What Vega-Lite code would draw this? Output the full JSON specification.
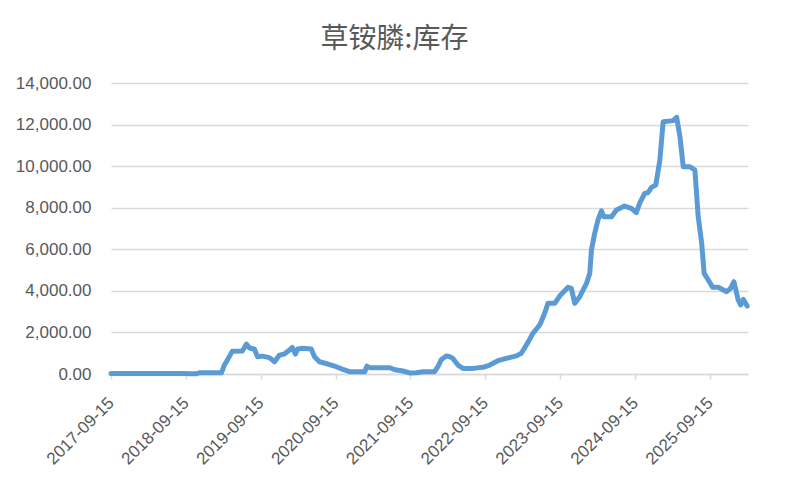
{
  "$schema": "https://vega.github.io/schema/vega-lite/v6.json",
  "autosize": "none",
  "width": 637,
  "height": 291,
  "padding": {"left": 111, "top": 83, "right": 40, "bottom": 105},
  "background": "white",
  "title": {
    "text": "草铵膦:库存",
    "font": "Noto Sans CJK SC",
    "fontSize": 28,
    "fontWeight": "normal",
    "color": "#595959",
    "anchor": "middle",
    "dx": -35,
    "offset": 20
  },
  "config": {
    "view": {"stroke": null},
    "axis": {
      "labelFont": "Liberation Sans",
      "labelFontSize": 17,
      "labelColor": "#595959",
      "titleColor": "#595959"
    }
  },
  "data": {
    "values": [
      {"date": "2017-09-15", "value": 30},
      {"date": "2018-08-29", "value": 30},
      {"date": "2018-10-03", "value": 10},
      {"date": "2018-11-06", "value": 10},
      {"date": "2018-11-20", "value": 60},
      {"date": "2019-03-08", "value": 60},
      {"date": "2019-03-22", "value": 430},
      {"date": "2019-04-01", "value": 590},
      {"date": "2019-04-30", "value": 1100},
      {"date": "2019-06-18", "value": 1110},
      {"date": "2019-07-08", "value": 1440},
      {"date": "2019-07-23", "value": 1250},
      {"date": "2019-08-16", "value": 1190},
      {"date": "2019-08-31", "value": 830},
      {"date": "2019-09-24", "value": 860},
      {"date": "2019-10-28", "value": 790},
      {"date": "2019-11-22", "value": 590},
      {"date": "2019-12-16", "value": 910},
      {"date": "2020-01-09", "value": 960},
      {"date": "2020-02-03", "value": 1150},
      {"date": "2020-02-16", "value": 1280},
      {"date": "2020-03-03", "value": 960},
      {"date": "2020-03-14", "value": 1200},
      {"date": "2020-04-08", "value": 1235},
      {"date": "2020-05-19", "value": 1200},
      {"date": "2020-06-04", "value": 830},
      {"date": "2020-06-28", "value": 590},
      {"date": "2020-08-08", "value": 480},
      {"date": "2020-09-18", "value": 350},
      {"date": "2020-10-20", "value": 225},
      {"date": "2020-11-22", "value": 110},
      {"date": "2021-02-04", "value": 110},
      {"date": "2021-02-15", "value": 385},
      {"date": "2021-02-28", "value": 300},
      {"date": "2021-06-06", "value": 300},
      {"date": "2021-07-08", "value": 190},
      {"date": "2021-08-10", "value": 145},
      {"date": "2021-09-11", "value": 50},
      {"date": "2021-10-14", "value": 60},
      {"date": "2021-11-15", "value": 110},
      {"date": "2022-01-11", "value": 110},
      {"date": "2022-01-27", "value": 350},
      {"date": "2022-02-13", "value": 700},
      {"date": "2022-03-09", "value": 870},
      {"date": "2022-03-26", "value": 830},
      {"date": "2022-04-10", "value": 750},
      {"date": "2022-05-05", "value": 430},
      {"date": "2022-05-29", "value": 270},
      {"date": "2022-07-17", "value": 270},
      {"date": "2022-09-04", "value": 320},
      {"date": "2022-10-07", "value": 430},
      {"date": "2022-11-16", "value": 640},
      {"date": "2022-12-27", "value": 750},
      {"date": "2023-02-14", "value": 870},
      {"date": "2023-03-10", "value": 1000},
      {"date": "2023-04-04", "value": 1400},
      {"date": "2023-05-06", "value": 1960},
      {"date": "2023-06-08", "value": 2360},
      {"date": "2023-07-02", "value": 2920},
      {"date": "2023-07-18", "value": 3400},
      {"date": "2023-08-20", "value": 3400},
      {"date": "2023-09-13", "value": 3750},
      {"date": "2023-10-24", "value": 4170},
      {"date": "2023-11-09", "value": 4120},
      {"date": "2023-11-26", "value": 3400},
      {"date": "2023-12-20", "value": 3720},
      {"date": "2024-01-22", "value": 4360},
      {"date": "2024-02-07", "value": 4840},
      {"date": "2024-02-15", "value": 5960},
      {"date": "2024-03-02", "value": 6770},
      {"date": "2024-03-18", "value": 7410},
      {"date": "2024-04-04", "value": 7850},
      {"date": "2024-04-15", "value": 7570},
      {"date": "2024-05-23", "value": 7570},
      {"date": "2024-06-16", "value": 7890},
      {"date": "2024-07-26", "value": 8080},
      {"date": "2024-08-28", "value": 7970},
      {"date": "2024-09-21", "value": 7760},
      {"date": "2024-10-07", "value": 8210},
      {"date": "2024-11-01", "value": 8690},
      {"date": "2024-11-17", "value": 8720},
      {"date": "2024-12-04", "value": 8980},
      {"date": "2024-12-25", "value": 9090},
      {"date": "2025-01-14", "value": 10290},
      {"date": "2025-01-30", "value": 12140},
      {"date": "2025-03-20", "value": 12190},
      {"date": "2025-04-06", "value": 12350},
      {"date": "2025-04-22", "value": 11420},
      {"date": "2025-05-08", "value": 9970},
      {"date": "2025-06-10", "value": 9970},
      {"date": "2025-07-04", "value": 9810},
      {"date": "2025-07-20", "value": 7570},
      {"date": "2025-08-06", "value": 6290},
      {"date": "2025-08-18", "value": 4840},
      {"date": "2025-09-07", "value": 4520},
      {"date": "2025-09-29", "value": 4170},
      {"date": "2025-10-26", "value": 4170},
      {"date": "2025-12-06", "value": 3960},
      {"date": "2025-12-25", "value": 4120},
      {"date": "2026-01-10", "value": 4440},
      {"date": "2026-01-20", "value": 4040},
      {"date": "2026-01-31", "value": 3560},
      {"date": "2026-02-12", "value": 3320},
      {"date": "2026-02-25", "value": 3590},
      {"date": "2026-03-16", "value": 3270}
    ]
  },
  "mark": {
    "type": "line",
    "color": "#5B9BD5",
    "strokeWidth": 5,
    "strokeJoin": "round",
    "strokeCap": "round",
    "clip": false
  },
  "encoding": {
    "x": {
      "field": "date",
      "type": "temporal",
      "scale": {
        "type": "utc",
        "domain": [
          {"year": 2017, "month": 9, "date": 15, "utc": true},
          {"year": 2026, "month": 3, "date": 20, "utc": true}
        ]
      },
      "axis": {
        "title": null,
        "labelExpr": "utcFormat(datum.value, '%Y-%m-%d')",
        "values": [
          {"year": 2017, "month": 9, "date": 15, "utc": true},
          {"year": 2018, "month": 9, "date": 15, "utc": true},
          {"year": 2019, "month": 9, "date": 15, "utc": true},
          {"year": 2020, "month": 9, "date": 15, "utc": true},
          {"year": 2021, "month": 9, "date": 15, "utc": true},
          {"year": 2022, "month": 9, "date": 15, "utc": true},
          {"year": 2023, "month": 9, "date": 15, "utc": true},
          {"year": 2024, "month": 9, "date": 15, "utc": true},
          {"year": 2025, "month": 9, "date": 15, "utc": true}
        ],
        "labelAngle": -45,
        "labelAlign": "right",
        "labelBaseline": "middle",
        "labelPadding": 21,
        "labelOverlap": false,
        "labelFlush": false,
        "grid": false,
        "domainColor": "#d9d9d9",
        "domainWidth": 1.5,
        "tickColor": "#d9d9d9",
        "tickWidth": 1.5,
        "tickSize": 5
      }
    },
    "y": {
      "field": "value",
      "type": "quantitative",
      "scale": {"domain": [0, 14000], "nice": false, "zero": true},
      "axis": {
        "title": null,
        "values": [0, 2000, 4000, 6000, 8000, 10000, 12000, 14000],
        "format": ",.2f",
        "domain": false,
        "ticks": false,
        "tickSize": 0,
        "labelPadding": 20,
        "grid": true,
        "gridColor": "#d9d9d9",
        "gridWidth": 1.5
      }
    }
  }
}
